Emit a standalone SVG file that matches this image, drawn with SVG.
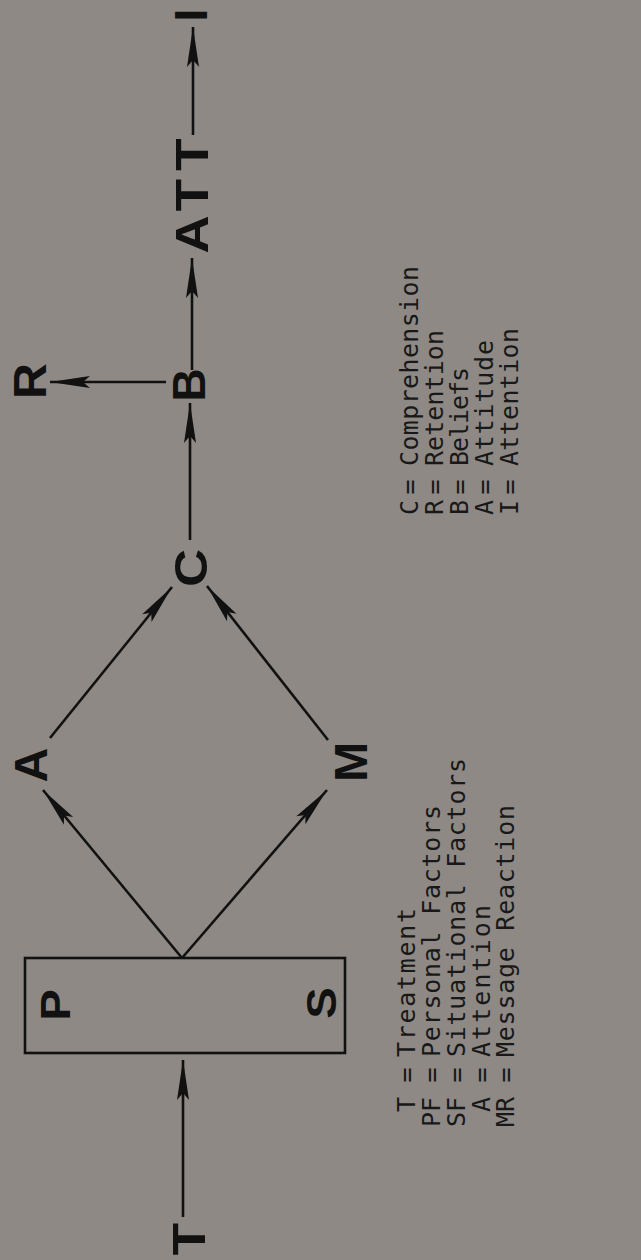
<svg xmlns="http://www.w3.org/2000/svg" width="641" height="1260" viewBox="0 0 641 1260">
<style>
.bg{fill:#8e8984}
.lbl{font-family:"Liberation Sans",Arial,sans-serif;font-weight:bold;font-size:46px;fill:#111;text-anchor:middle}
.lbl2{font-family:"Liberation Sans",Arial,sans-serif;font-weight:bold;font-size:43px;fill:#111;text-anchor:middle}
.leg{font-family:"DejaVu Sans Mono","Liberation Mono",monospace;font-size:25px;fill:#181818}
.ab{text-anchor:end}
.eq{text-anchor:middle}
.con line{stroke:#111;stroke-width:2.6;fill:none}
.box{fill:none;stroke:#111;stroke-width:2.6}
</style>
<defs>
<marker id="ah" markerUnits="userSpaceOnUse" markerWidth="42" markerHeight="14" refX="40" refY="7" orient="auto" overflow="visible">
<path d="M0,1 L40,7 L0,13 L7,7 Z" fill="#111"/>
</marker>
</defs>
<rect class="bg" x="0" y="0" width="641" height="1260"/>

<g id="connectors" class="con">
<line x1="183" y1="1217" x2="183" y2="1060" marker-end="url(#ah)"/>
<line x1="182" y1="958" x2="43" y2="790" marker-end="url(#ah)"/>
<line x1="182" y1="958" x2="327" y2="790" marker-end="url(#ah)"/>
<line x1="50" y1="738" x2="172" y2="587" marker-end="url(#ah)"/>
<line x1="328" y1="740" x2="207" y2="586" marker-end="url(#ah)"/>
<line x1="190" y1="540" x2="190" y2="403" marker-end="url(#ah)"/>
<line x1="166" y1="382" x2="50" y2="382" marker-end="url(#ah)"/>
<line x1="192" y1="370" x2="192" y2="258" marker-end="url(#ah)"/>
<line x1="193" y1="135" x2="193" y2="27" marker-end="url(#ah)"/>
</g>

<g id="node-T"><text class="lbl" transform="translate(205,1239) rotate(-90) scale(1.15,1)">T</text></g>
<g id="node-PS">
<rect class="box" x="25" y="958" width="320" height="95"/>
<text class="lbl2" transform="translate(70,1005) rotate(-90) scale(1.1,1)">P</text>
<text class="lbl2" transform="translate(336,1003) rotate(-90) scale(1.1,1)">S</text>
</g>
<g id="node-A"><text class="lbl" transform="translate(47,765) rotate(-90) scale(1.05,1)">A</text></g>
<g id="node-M"><text class="lbl" transform="translate(367,762) rotate(-90) scale(1.05,1)">M</text></g>
<g id="node-C"><text class="lbl" transform="translate(207,568) rotate(-90) scale(1.15,1)">C</text></g>
<g id="node-B"><text class="lbl" transform="translate(205,385) rotate(-90)">B</text></g>
<g id="node-R"><text class="lbl" transform="translate(46,381) rotate(-90) scale(1.08,1)">R</text></g>
<g id="node-ATT"><text class="lbl" transform="translate(208,196) rotate(-90) scale(1.15,1)" textLength="100" lengthAdjust="spacing">ATT</text></g>
<g id="node-I"><text class="lbl" transform="translate(207,15) rotate(-90)">I</text></g>

<g id="legend-left" class="leg">
<g transform="translate(415,0) rotate(-90)">
<text class="ab" x="-1097" y="0">T</text><text class="eq" x="-1075" y="0">=</text><text x="-1057" y="0" textLength="149" lengthAdjust="spacing">Treatment</text>
</g>
<g transform="translate(440,0) rotate(-90)">
<text class="ab" x="-1097" y="0">PF</text><text class="eq" x="-1075" y="0">=</text><text x="-1057" y="0" textLength="252" lengthAdjust="spacing">Personal Factors</text>
</g>
<g transform="translate(465,0) rotate(-90)">
<text class="ab" x="-1097" y="0">SF</text><text class="eq" x="-1075" y="0">=</text><text x="-1057" y="0" textLength="299" lengthAdjust="spacing">Situational Factors</text>
</g>
<g transform="translate(490,0) rotate(-90)">
<text class="ab" x="-1097" y="0">A</text><text class="eq" x="-1075" y="0">=</text><text x="-1057" y="0" textLength="152" lengthAdjust="spacing">Attention</text>
</g>
<g transform="translate(514,0) rotate(-90)">
<text class="ab" x="-1097" y="0">MR</text><text class="eq" x="-1075" y="0">=</text><text x="-1057" y="0" textLength="252" lengthAdjust="spacing">Message Reaction</text>
</g>
</g>

<g id="legend-right" class="leg">
<g transform="translate(418,0) rotate(-90)">
<text class="ab" x="-500" y="0">C</text><text class="eq" x="-487" y="0">=</text><text x="-466" y="0" textLength="200" lengthAdjust="spacing">Comprehension</text>
</g>
<g transform="translate(443,0) rotate(-90)">
<text class="ab" x="-500" y="0">R</text><text class="eq" x="-487" y="0">=</text><text x="-466" y="0" textLength="136" lengthAdjust="spacing">Retention</text>
</g>
<g transform="translate(468,0) rotate(-90)">
<text class="ab" x="-500" y="0">B</text><text class="eq" x="-487" y="0">=</text><text x="-466" y="0" textLength="99" lengthAdjust="spacing">Beliefs</text>
</g>
<g transform="translate(493,0) rotate(-90)">
<text class="ab" x="-500" y="0">A</text><text class="eq" x="-487" y="0">=</text><text x="-466" y="0" textLength="126" lengthAdjust="spacing">Attitude</text>
</g>
<g transform="translate(518,0) rotate(-90)">
<text class="ab" x="-500" y="0">I</text><text class="eq" x="-487" y="0">=</text><text x="-466" y="0" textLength="138" lengthAdjust="spacing">Attention</text>
</g>
</g>
</svg>
